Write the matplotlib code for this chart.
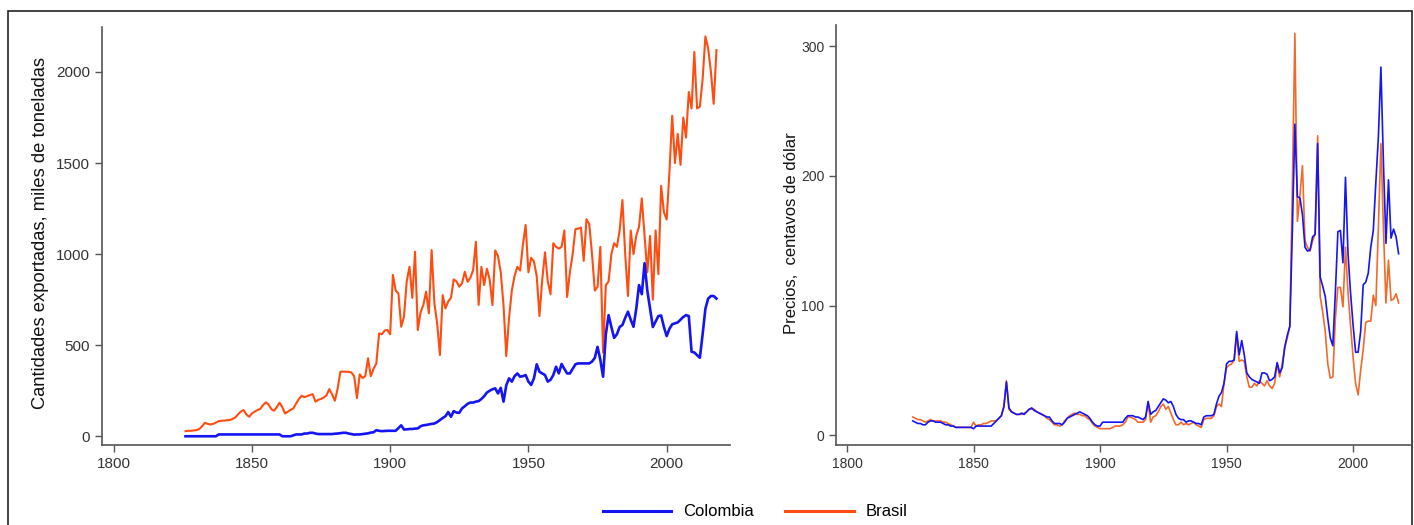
import numpy as np
import matplotlib
matplotlib.use('Agg')
import matplotlib.pyplot as plt
from matplotlib.lines import Line2D
from matplotlib.patches import Rectangle

plt.rcParams['font.family'] = ['Liberation Sans Narrow', 'Liberation Sans', 'DejaVu Sans']

years = list(range(1826, 2019))

# Cantidades exportadas, miles de toneladas
col_qty = ([0] * 12 + [10] * 23 + [0] * 4 +
           [5, 10, 10, 10, 15, 15,
            19, 19, 15, 12, 12, 12, 12, 12, 12, 14, 15, 17, 19, 19,
            15, 12, 9, 10, 10, 12, 14, 16, 20, 22,
            33, 30, 28, 29, 30, 30, 30, 30, 45, 60,
            37, 38, 40, 40, 42, 43, 55, 60, 62, 65, 68,
            70, 78, 89, 100, 110, 133, 107, 138, 130, 129,
            153, 165, 178, 185, 185, 190, 193, 205, 220, 240,
            250, 258, 263, 235, 266, 190, 280, 318, 300, 330,
            345, 327, 330, 336, 300, 282, 318, 395, 354, 345,
            336, 300, 310, 336, 382, 345, 397, 370, 345, 345,
            370, 395, 400, 400, 400, 400, 400, 410, 430, 491,
            420, 327, 560, 665, 600, 540, 560, 600, 611, 650,
            684, 640, 601, 700, 830, 780, 950, 800, 700, 600,
            630, 660, 663, 600, 550, 590, 615, 620, 625, 640,
            655, 665, 660, 464, 460, 445, 431, 560, 700, 756,
            770, 770, 756])

bra_qty = [28, 30, 30, 32, 34, 40, 55, 74, 68, 65,
           68, 75, 83, 85, 86, 88, 89, 95, 103, 120,
           135, 144, 120, 107, 125, 135, 144, 150, 170, 186,
           175, 150, 140, 160, 184, 160, 125, 135, 145, 153,
           180, 205, 222, 215, 220, 226, 231, 190, 200, 205,
           213, 225, 259, 230, 195, 260, 354, 355, 354, 354,
           350, 330, 210, 340, 320, 330, 428, 330, 370, 400,
           565, 560, 580, 584, 560, 886, 800, 784, 601, 656,
           850, 931, 760, 1013, 583, 680, 720, 794, 675, 1022,
           730, 620, 446, 775, 702, 740, 760, 861, 850, 821,
           840, 903, 848, 870, 911, 1068, 721, 930, 830, 920,
           860, 720, 1020, 990, 900, 720, 440, 650, 800, 880,
           930, 910, 1050, 1160, 900, 980, 960, 880, 660, 860,
           1010, 850, 780, 1060, 1040, 1030, 1040, 1130, 765, 900,
           1000, 1137, 1140, 1146, 963, 1192, 1165, 1000, 800, 820,
           1040, 460, 830, 850, 1000, 1060, 1040, 1130, 1297, 1000,
           770, 1130, 1000, 1100, 1150, 1306, 1100, 900, 1100, 750,
           1130, 890, 1375, 1230, 1190, 1450, 1760, 1500, 1660, 1490,
           1750, 1640, 1890, 1800, 2110, 1800, 1810, 1960, 2195, 2130,
           2000, 1825, 2120]

# Precios, centavos de dolar
col_price = [11, 10, 9, 9, 8, 8, 10, 11, 11, 10,
             10, 10, 9, 8, 8, 7, 7, 6, 6, 6,
             6, 6, 6, 6, 5, 7, 7, 7, 7, 7,
             7, 7, 9, 11, 13, 15, 22, 41, 21, 18,
             17, 16, 16, 17, 16, 18, 20, 21, 19, 18,
             17, 16, 15, 14, 14, 11, 9, 9, 9, 8,
             10, 13, 14, 15, 16, 17, 18, 17, 16, 15,
             13, 10, 8, 7, 7, 10, 10, 10, 10, 10,
             10, 10, 10, 10, 13, 15, 15, 15, 14, 14,
             13, 12, 14, 26, 16, 18, 19, 22, 25, 28,
             27, 25, 26, 22, 16, 13, 12, 12, 10, 11,
             11, 10, 9, 9, 8, 14, 15, 15, 15, 16,
             24, 30, 33, 40, 55, 57, 57, 58, 80, 62,
             73, 62, 48, 45, 43, 42, 41, 40, 48, 48,
             47, 42, 43, 45, 56, 48, 52, 68, 77, 84,
             157, 240, 184, 183, 170, 145, 142, 143, 153, 155,
             225, 122, 115, 107, 90, 75, 69, 110, 157, 158,
             133, 199, 140, 110, 85, 64, 64, 80, 116, 118,
             125, 145, 158, 195, 230, 284, 210, 148, 197, 152,
             159, 153, 140]

bra_price = [14, 13, 12, 12, 11, 10, 11, 12, 11, 11,
             11, 11, 10, 10, 9, 8, 7, 6, 6, 6,
             6, 6, 6, 6, 10, 7, 8, 8, 9, 9,
             10, 11, 11, 11, 13, 15, 22, 42, 20, 18,
             17, 16, 16, 16, 17, 18, 20, 20, 20, 18,
             17, 16, 15, 13, 12, 10, 8, 8, 7, 8,
             11, 13, 15, 16, 17, 16, 16, 15, 15, 13,
             12, 9, 7, 6, 5, 5, 5, 5, 5, 6,
             7, 7, 7, 8, 10, 14, 14, 13, 12, 10,
             10, 10, 12, 25, 10, 14, 15, 18, 22, 24,
             20, 22, 17, 12, 8, 8, 10, 8, 9, 8,
             9, 10, 8, 7, 6, 12, 13, 13, 13, 15,
             22, 24, 22, 40, 52, 54, 55, 58, 78, 57,
             58, 57, 45, 37, 37, 40, 38, 42, 40, 38,
             42, 38, 36, 40, 55, 45, 55, 68, 75, 84,
             190, 310, 165, 185, 208, 150, 145, 142, 150, 155,
             231, 107, 95, 80, 55, 44, 45, 90, 114, 114,
             99, 145, 110, 85, 60, 40, 31, 50, 66, 87,
             88, 88, 108, 100, 160, 225, 160, 102, 135, 104,
             105, 109, 102]

blue = '#1414f5'
orange = '#ff4d12'
orange2 = '#f26a2a'
axcol = '#555555'
txtcol = '#333333'

fig = plt.figure(figsize=(14.14, 5.25), dpi=100)
fig.patches.append(Rectangle((8 / 1414, -0.05), 1404 / 1414, 1.05 - 11 / 525,
                             transform=fig.transFigure, fill=False,
                             edgecolor='#222222', linewidth=1.2))

def style(ax, fs):
    for s in ['top', 'right']:
        ax.spines[s].set_visible(False)
    for s in ['left', 'bottom']:
        ax.spines[s].set_color(axcol)
        ax.spines[s].set_linewidth(1.2)
    ax.tick_params(colors=axcol, labelcolor=txtcol, labelsize=fs, length=5, width=1)
    ax.set_xticks([1800, 1850, 1900, 1950, 2000])

# left: quantities
ax1 = fig.add_axes([102 / 1414, 80 / 525, 628 / 1414, 418 / 525])
ax1.plot(years, col_qty, color=blue, lw=1.9, zorder=3)
ax1.plot(years, bra_qty, color=orange, lw=1.5, zorder=2)
ax1.set_xlim(1795.8, 2022.9)
ax1.set_ylim(-48, 2247)
ax1.set_yticks([0, 500, 1000, 1500, 2000])
style(ax1, 11)
ax1.set_ylabel('Cantidades exportadas, miles de toneladas', fontsize=13.2,
               family=['Liberation Sans', 'DejaVu Sans'], color='#111111')
ax1.yaxis.set_label_coords(-0.085, 0.506)

# right: prices
ax2 = fig.add_axes([836 / 1414, 80 / 525, 574 / 1414, 420 / 525])
ax2.plot(years, col_price, color=blue, lw=1.2, zorder=3)
ax2.plot(years, bra_price, color=orange2, lw=1.2, zorder=2)
ax2.set_xlim(1795.65, 2022.5)
ax2.set_ylim(-7.6, 316.5)
ax2.set_yticks([0, 100, 200, 300])
style(ax2, 10)
ax2.set_ylabel('Precios,  centavos de dólar', fontsize=12,
               family=['Liberation Sans', 'DejaVu Sans'], color='#111111')
ax2.yaxis.set_label_coords(-0.064, 0.505)

handles = [Line2D([], [], color=blue, lw=2.2), Line2D([], [], color=orange, lw=2.2)]
fig.legend(handles, ['Colombia', 'Brasil'], loc='center', bbox_to_anchor=(0.534, 1 - 512 / 525),
           ncol=2, frameon=False, handlelength=4.1, handletextpad=0.7,
           columnspacing=1.9, prop={'family': ['Liberation Sans', 'DejaVu Sans'], 'size': 12})

fig.savefig('out.png', dpi=100)
